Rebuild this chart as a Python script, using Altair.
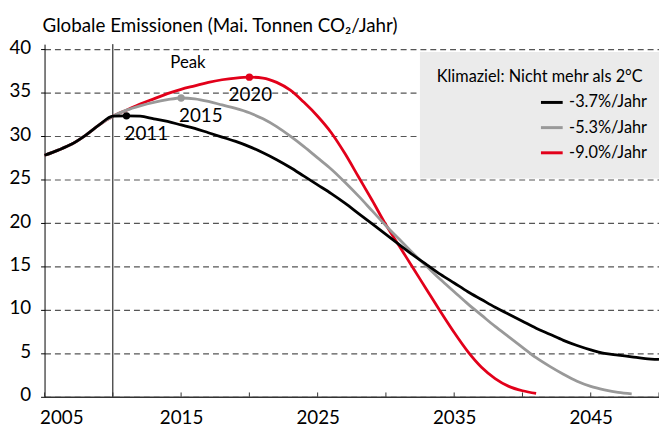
import altair as alt
import pandas as pd

# ---- data ----
series_names = ["-3.7%/Jahr", "-5.3%/Jahr", "-9.0%/Jahr"]
series_colors = ["#000000", "#999999", "#e2001a"]

common_years = [2005, 2006, 2007, 2008, 2009, 2010]
common_values = [27.8, 28.4, 29.1, 30.1, 31.3, 32.3]

black_years = list(range(2011, 2051))
black_values = [32.35, 32.3, 32.0, 31.7, 31.3, 30.9, 30.4, 29.9, 29.4, 28.8,
                28.1, 27.3, 26.4, 25.4, 24.4, 23.4, 22.3, 21.1, 19.9, 18.7,
                17.5, 16.3, 15.2, 14.1, 13.1, 12.1, 11.2, 10.3, 9.5, 8.7,
                7.9, 7.2, 6.5, 5.9, 5.4, 5.0, 4.8, 4.6, 4.4, 4.3]

gray_years = list(range(2011, 2049))
gray_values = [33.0, 33.5, 33.9, 34.2, 34.4, 34.3, 34.0, 33.6, 33.2, 32.7,
               32.0, 31.1, 30.0, 28.8, 27.5, 26.2, 24.7, 23.1, 21.4, 19.7,
               18.1, 16.5, 15.0, 13.5, 12.1, 10.7, 9.4, 8.1, 6.9, 5.7,
               4.5, 3.5, 2.6, 1.8, 1.2, 0.8, 0.5, 0.35]

red_years = list(range(2011, 2042))
red_values = [33.0, 33.7, 34.3, 34.9, 35.4, 35.8, 36.2, 36.5, 36.7, 36.8,
              36.7, 36.2, 35.3, 33.9, 32.3, 30.4, 28.0, 25.3, 22.6, 19.8,
              17.3, 14.8, 12.3, 9.8, 7.4, 5.2, 3.4, 2.1, 1.2, 0.7, 0.4]

peak_years = [2011, 2015, 2020]
peak_labels = ["2011", "2015", "2020"]

y_ticks = [0, 5, 10, 15, 20, 25, 30, 35, 40]
x_ticks = [2005, 2010, 2015, 2020, 2025, 2030, 2035, 2040, 2045, 2050]
x_labels = [2005, 2015, 2025, 2035, 2045]

title_text = "Globale Emissionen (Mai. Tonnen CO\u2082/Jahr)"
legend_title = "Klimaziel: Nicht mehr als 2\u00b0C"

FONT = "Lato"

# ---- build tables ----
rows = []
for name, yrs, vals in [(series_names[2], red_years, red_values),
                        (series_names[1], gray_years, gray_values),
                        (series_names[0], black_years, black_values)]:
    for y, v in zip(common_years + yrs, common_values + vals):
        rows.append({"series": name, "year": y, "value": v})
df = pd.DataFrame(rows)

lookup = {series_names[0]: dict(zip(black_years, black_values)),
          series_names[1]: dict(zip(gray_years, gray_values)),
          series_names[2]: dict(zip(red_years, red_values))}
peaks = pd.DataFrame({
    "series": series_names,
    "year": peak_years,
    "value": [lookup[s][y] for s, y in zip(series_names, peak_years)],
    "label": peak_labels,
})

color_scale = alt.Scale(domain=series_names, range=series_colors)
x_scale = alt.Scale(domain=[2005, 2050], nice=False, zero=False)
y_scale = alt.Scale(domain=[0, 40.6], nice=False)

x_enc = alt.X("year:Q", scale=x_scale, axis=alt.Axis(
    values=x_labels, format="d", title=None, grid=False, ticks=False, tickSize=0,
    labelFont=FONT, labelFontSize=19, labelColor="black", labelPadding=12,
    labelFlush=True, labelFlushOffset=5,
    domainColor="#333333", domainWidth=1.5))
y_enc = alt.Y("value:Q", scale=y_scale, axis=alt.Axis(
    values=y_ticks, title=None, grid=True, gridDash=[6, 4], gridColor="#555555",
    gridWidth=1.2, tickColor="black", tickSize=4, labelPadding=10,
    labelFont=FONT, labelFontSize=19, labelColor="black", labelOffset=-2,
    domainColor="black", domainWidth=1))

lines = alt.Chart(df).mark_line(strokeWidth=2.8, interpolate="monotone").encode(
    x=x_enc,
    y=y_enc,
    color=alt.Color("series:N", scale=color_scale, sort=series_names,
                    legend=alt.Legend(
                        orient="none", legendX=380, legendY=8,
                        title=legend_title, fillColor="#ebebeb", padding=17,
                        titleFont=FONT, titleFontSize=16.5, titleFontWeight="normal",
                        titleColor="black", titlePadding=5, titleLimit=400,
                        labelFont=FONT, labelFontSize=16.5, labelColor="black",
                        labelOffset=5, symbolType="stroke", symbolSize=484,
                        symbolStrokeWidth=3, symbolOffset=104, rowPadding=4.5,
                        labelLimit=300)),
    detail="series:N",
)

tick_df = pd.DataFrame({"year": x_ticks})
ticks = alt.Chart(tick_df).mark_rule(color="#333333", strokeWidth=1).encode(
    x="year:Q", y=alt.datum(0), y2=alt.datum(0.5))

vline = alt.Chart(pd.DataFrame({"year": [2010]})).mark_rule(
    color="black", strokeWidth=1).encode(x="year:Q", y=alt.datum(0), y2=alt.datum(40.6))

dots = alt.Chart(peaks).mark_circle(size=55, opacity=1).encode(
    x="year:Q", y="value:Q",
    color=alt.Color("series:N", scale=color_scale, legend=None))

lab_left = alt.Chart(peaks[peaks["label"] != "2020"]).mark_text(
    align="left", baseline="middle", dx=-2, dy=18, font=FONT, fontSize=19,
    color="black").encode(x="year:Q", y="value:Q", text="label:N")
lab_center = alt.Chart(peaks[peaks["label"] == "2020"]).mark_text(
    align="center", baseline="middle", dx=1, dy=18, font=FONT, fontSize=19,
    color="black").encode(x="year:Q", y="value:Q", text="label:N")

peak_text = alt.Chart(pd.DataFrame({"t": ["Peak"]})).mark_text(
    align="center", baseline="middle", font=FONT, fontSize=17, color="black"
).encode(x=alt.datum(2015.5), y=alt.datum(38.4), text="t:N")

title_mark = alt.Chart(pd.DataFrame({"t": [title_text]})).mark_text(
    align="left", baseline="alphabetic", font=FONT, fontSize=19, color="black"
).encode(x=alt.value(-2), y=alt.value(-12), text="t:N")

chart = alt.layer(vline, ticks, lines, dots, lab_left, lab_center, peak_text,
                  title_mark).properties(
    width=622, height=357,
    autosize=alt.AutoSizeParams(type="none"),
    padding={"left": 37, "top": 34, "right": 0, "bottom": 30},
).configure_view(stroke=None).resolve_scale(color="shared")

chart.save("out.html", embed_options={"renderer": "svg", "actions": False})
